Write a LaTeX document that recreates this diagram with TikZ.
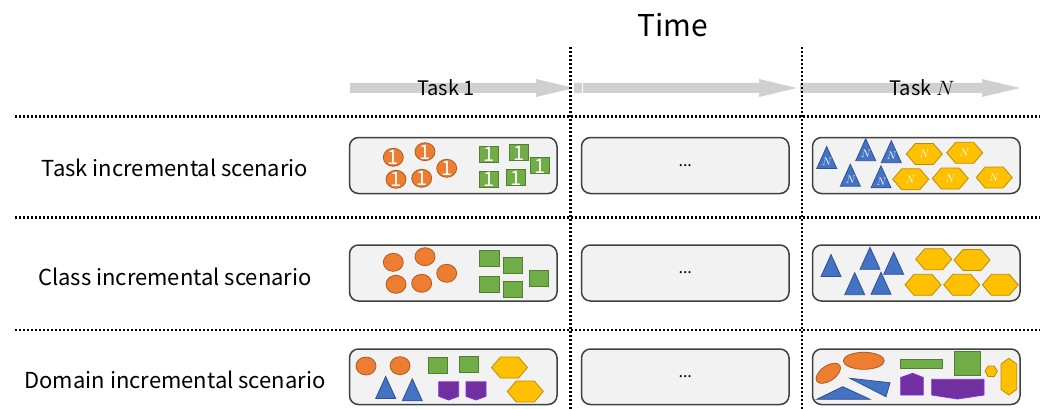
\documentclass[tikz,border=0pt]{standalone}
\usepackage{fontspec}
\setmainfont{Noto Sans CJK KR}
\usetikzlibrary{shapes.geometric}
\definecolor{orf}{HTML}{ED7D31}\definecolor{ord}{HTML}{AE5A21}
\definecolor{grf}{HTML}{70AD47}\definecolor{grd}{HTML}{507E32}
\definecolor{blf}{HTML}{4472C4}\definecolor{bld}{HTML}{2F528F}
\definecolor{yef}{HTML}{FFC000}\definecolor{yed}{HTML}{BC8C00}
\definecolor{puf}{HTML}{7030A0}\definecolor{pud}{HTML}{8A2BE2}
\definecolor{boxf}{HTML}{F2F2F2}\definecolor{boxd}{HTML}{404040}
\definecolor{arr}{HTML}{D0D0D0}
\tikzset{
  shp/.style={line width=0.8pt},
  orshape/.style={shp,fill=orf,draw=ord},
  grshape/.style={shp,fill=grf,draw=grd},
  blshape/.style={shp,fill=blf,draw=bld},
  yeshape/.style={shp,fill=yef,draw=yed},
  pushape/.style={shp,fill=puf,draw=pud},
  onetext/.style={text=white,inner sep=0pt,font=\fontsize{20}{21}\selectfont},
  ntext/.style={text=white,inner sep=0pt,font=\fontsize{11}{12}\selectfont},
  box/.style={draw=boxd,fill=boxf,line width=1.5pt,rounded corners=9pt,
    minimum width=207.5pt,inner sep=0pt},
  lab/.style={inner sep=0pt,font=\fontsize{22}{25}\selectfont},
  tasklab/.style={inner sep=0pt,font=\fontsize{20}{22}\selectfont},
  dotline/.style={line width=2.2pt,dash pattern=on 2pt off 2pt},
  ocirc/.pic={\path[orshape] (0,0) ellipse [x radius=10,y radius=9];},
  ocircone/.pic={\path[orshape] (0,0) ellipse [x radius=10,y radius=9];
     \node[onetext] at (0,0.5) {1};},
  gsq/.pic={\path[grshape] (-9.75,-8) rectangle (9.75,8);},
  gsqone/.pic={\path[grshape] (-9.75,-8) rectangle (9.75,8);
     \node[onetext] at (0,0.5) {1};},
  tri/.pic={\path[blshape] (-10,11) -- (0,-11) -- (10,11) -- cycle;},
  trin/.pic={\path[blshape] (-10,11) -- (0,-11) -- (10,11) -- cycle;
     \node[ntext] at (0.5,4.5) {$N$};},
  hex/.pic={\path[yeshape] (-18,0) -- (-9,-10.5) -- (9,-10.5) -- (18,0) -- (9,10.5) -- (-9,10.5) -- cycle;},
  hexn/.pic={\path[yeshape] (-18,0) -- (-9,-10.5) -- (9,-10.5) -- (18,0) -- (9,10.5) -- (-9,10.5) -- cycle;
     \node[ntext] at (0,0) {$N$};},
  shield/.pic={\path[pushape] (-10,-9) -- (10,-9) -- (10,5.5) -- (0,9.2) -- (-10,5.5) -- cycle;}
}
\begin{document}
\begin{tikzpicture}[x=1pt,y=-1pt]
\useasboundingbox (0,0) rectangle (1046,409);
% arrows
\fill[arr] (350,83) -- (536,83) -- (536,79) -- (574,88) -- (536,97) -- (536,93) -- (350,93) -- cycle;
\fill[arr] (574,83) -- (759,83) -- (759,79) -- (797,88) -- (759,97) -- (759,93) -- (574,93) -- cycle;
\draw[white,line width=0.8pt] (582.5,83) -- (582.5,93);
\fill[arr] (800,83) -- (982,83) -- (982,79) -- (1020,88) -- (982,97) -- (982,93) -- (800,93) -- cycle;
% titles
\node (time) at (673,25) {\fontsize{30}{34}\selectfont Time};
\node[tasklab] (task1) at (446,88) {Task 1};
\node[tasklab] (taskn) at (922,88) {Task $N$};
% dividers
\coordinate (v1t) at (570.5,47); \coordinate (v1b) at (570.5,409);
\coordinate (v2t) at (802,47); \coordinate (v2b) at (802,409);
\draw[dotline] (v1t) -- (v1b);
\draw[dotline] (v2t) -- (v2b);
\coordinate (h1l) at (15,116.5); \coordinate (h1r) at (1040,116.5);
\coordinate (h2l) at (15,217.5); \coordinate (h2r) at (1040,217.5);
\coordinate (h3l) at (15,330); \coordinate (h3r) at (1040,330);
\draw[dotline] (h1l) -- (h1r);
\draw[dotline] (h2l) -- (h2r);
\draw[dotline] (h3l) -- (h3r);
% labels
\node[lab] (l1) at (175,168) {Task incremental scenario};
\node[lab] (l2) at (175,277) {Class incremental scenario};
\node[lab] (l3) at (175,380) {Domain incremental scenario};
% boxes
\node[box,minimum height=56pt] (b11) at (453.25,165.5) {};
\node[box,minimum height=56pt,font=\fontsize{16}{18}\selectfont] (b12) at (685.25,165.5) {...};
\node[box,minimum height=56pt] (b13) at (916.25,165.5) {};
\node[box,minimum height=56pt] (b21) at (453.25,273) {};
\node[box,minimum height=56pt,font=\fontsize{16}{18}\selectfont] (b22) at (685.25,273) {...};
\node[box,minimum height=56pt] (b23) at (916.25,273) {};
\node[box,minimum height=55.5pt] (b31) at (453.25,376.75) {};
\node[box,minimum height=55.5pt,font=\fontsize{16}{18}\selectfont] (b32) at (685.25,376.75) {...};
\node[box,minimum height=55.5pt] (b33) at (916.25,376.75) {};
% row 1 left
\pic (c1a) at (393.3,157.3) {ocircone};
\pic (c1b) at (425,151.7) {ocircone};
\pic (c1c) at (446.7,168.3) {ocircone};
\pic (c1d) at (396,179.3) {ocircone};
\pic (c1e) at (421.7,178.3) {ocircone};
\pic (s1a) at (489,154) {gsqone};
\pic (s1b) at (519,152.7) {gsqone};
\pic (s1c) at (540,165.7) {gsqone};
\pic (s1d) at (489,179) {gsqone};
\pic (s1e) at (515.7,177.7) {gsqone};
% row 1 right
\pic (t1a) at (826.7,157.5) {trin};
\pic (t1b) at (865.7,149.7) {trin};
\pic (t1c) at (891.3,151.7) {trin};
\pic (t1d) at (850.3,175.2) {trin};
\pic (t1e) at (881,176.8) {trin};
\pic (x1a) at (924.3,154) {hexn};
\pic (x1b) at (964.7,152.8) {hexn};
\pic (x1c) at (910.7,179.3) {hexn};
\pic (x1d) at (950.3,178.5) {hexn};
\pic (x1e) at (994.2,177.5) {hexn};
% row 2 left
\pic (c2a) at (393.3,262.3) {ocirc};
\pic (c2b) at (425,256.7) {ocirc};
\pic (c2c) at (446.7,273.3) {ocirc};
\pic (c2d) at (396,284.3) {ocirc};
\pic (c2e) at (421.7,283.3) {ocirc};
\pic (s2a) at (489.3,258.7) {gsq};
\pic (s2b) at (513,265) {gsq};
\pic (s2c) at (539,278.3) {gsq};
\pic (s2d) at (489.3,284.5) {gsq};
\pic (s2e) at (513,289.3) {gsq};
% row 2 right
\pic (t2a) at (831,265.5) {tri};
\pic (t2b) at (870,258.3) {tri};
\pic (t2c) at (893.7,263.3) {tri};
\pic (t2d) at (854.7,283.7) {tri};
\pic (t2e) at (881,283.3) {tri};
\pic (x2a) at (933.7,259.2) {hex};
\pic (x2b) at (972,260) {hex};
\pic (x2c) at (923,284.8) {hex};
\pic (x2d) at (961.7,284.8) {hex};
\pic (x2e) at (1000.3,284.8) {hex};
% row 3 left
\pic (c3a) at (366,366) {ocirc};
\pic (c3b) at (400,365.7) {ocirc};
\pic (t3a) at (385.7,387.5) {tri};
\pic (t3b) at (412.3,389.8) {tri};
\pic (s3a) at (438,365.3) {gsq};
\pic (s3b) at (469,364.7) {gsq};
\pic (p3a) at (448.7,390.8) {shield};
\pic (p3b) at (476,390.8) {shield};
\pic (x3a) at (509.5,367.5) {hex};
\pic (x3b) at (525.3,391.5) {hex};
% row 3 right
\path[orshape,rotate around={35:(828.3,373.3)}] (828.3,373.3) ellipse [x radius=14,y radius=7.5];
\path[orshape] (863.8,360.8) ellipse [x radius=20.5,y radius=8.5];
\path[blshape] (816.7,399.3) -- (842.7,386.7) -- (870,399.3) -- cycle;
\path[blshape] (850,378.3) -- (890,382.7) -- (886,396.7) -- cycle;
\path[grshape] (900,359.3) rectangle (942.7,368.3);
\path[grshape] (954,351.7) rectangle (980,375.7);
\path[yeshape] (985,371.2) -- (988,366) -- (994.3,366) -- (997.3,371.2) -- (994.3,376.5) -- (988,376.5) -- cycle;
\path[yeshape] (1008.8,358.3) -- (1016.7,364) -- (1016.7,389.5) -- (1008.8,395) -- (1001,389.5) -- (1001,364) -- cycle;
\path[pushape] (912.7,373.3) -- (923.3,377.5) -- (923.3,395) -- (900.7,395) -- (900.7,377.5) -- cycle;
\path[pushape] (931.7,379.3) -- (984,379.3) -- (984,395) -- (957.5,399) -- (931.7,395) -- cycle;
\end{tikzpicture}
\end{document}
